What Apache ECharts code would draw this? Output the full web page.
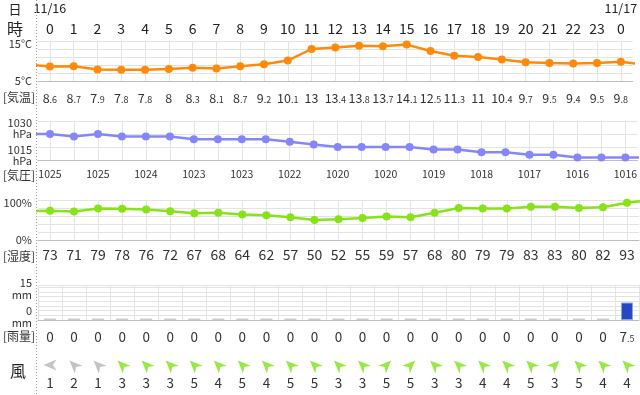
<!DOCTYPE html>
<html><head><meta charset="utf-8">
<script src="https://cdn.jsdelivr.net/npm/echarts@6/dist/echarts.min.js"></script>
<style>html,body{margin:0;padding:0;background:#fff}#c{width:640px;height:395px}</style>
</head><body><div id="c"></div>
<script>
// ---- data ----
const hourLabels = ['0','1','2','3','4','5','6','7','8','9','10','11','12','13','14','15','16','17','18','19','20','21','22','23','0'];
const dateLabels = ['11/16','','','','','','','','','','','','','','','','','','','','','','','','11/17'];
const temperature = [8.6,8.7,7.9,7.8,7.8,8,8.3,8.1,8.7,9.2,10.1,13,13.4,13.8,13.7,14.1,12.5,11.3,11,10.4,9.7,9.5,9.4,9.5,9.8];
const temperatureBefore = 9.2;
const temperatureAfter = 9.1;
const pressure = [1025,1024,1025,1024,1024,1024,1023,1023,1023,1023,1022,1021,1020,1020,1020,1020,1019,1019,1018,1018,1017,1017,1016,1016,1016];
const pressureBefore = 1025;
const pressureAfter = 1016;
const humidity = [73,71,79,78,76,72,67,68,64,62,57,50,52,55,59,57,68,80,79,79,83,83,80,82,93];
const humidityBefore = 72;
const humidityAfter = 100;
const rain = [0,0,0,0,0,0,0,0,0,0,0,0,0,0,0,0,0,0,0,0,0,0,0,0,7.5];
const windSpeed = [1,2,1,3,3,3,5,4,5,4,5,5,3,3,5,5,3,3,4,4,5,3,5,4,4];
const windDir = ['東','南東','南東','南東','南東','南東','南東','南東','南東','南東','南東','南東','南東','南東','南西','南西','南東','南東','南東','南東','南東','南西','南東','南東','南東'];
const tempTicks = {max:'15°C', min:'5°C'};
const pressureTicks = {max:'1030', min:'1015', unit:'hPa'};
const humidityTicks = {max:'100%', min:'0%'};
const rainTicks = {max:'15', min:'0', unit:'mm'};

// ---- helpers ----
const FONT = '"Noto Sans CJK JP","Noto Sans",sans-serif';
const TXT = '#333';
const dirDeg = {'北':0,'北東':45,'東':90,'南東':135,'南':180,'南西':225,'西':270,'北西':315};
function withEdges(arr, before, after){
  const d = [[-0.5, before]];
  arr.forEach((v,i)=>d.push([i+0.5, v]));
  d.push([arr.length+0.5, after]);
  return d;
}
function decRich(v){
  const s = String(v); const k = s.indexOf('.');
  if (k < 0) return '{b|'+s+'}';
  return '{b|'+s.slice(0,k)+'}{s|'+s.slice(k)+'}';
}
function xVal(gi, minor, major, line){
  return {type:'value', gridIndex:gi, min:0, max:25, interval:1, position:'bottom',
    axisLine:{show:line, onZero:false, lineStyle:{color:'#bdbdbd', width:1}},
    axisTick:{show:false}, axisLabel:{show:false},
    splitLine:{show:major, lineStyle:{color:'#e3e3e3'}},
    minorTick:{show:false, splitNumber:2},
    minorSplitLine:{show:minor, lineStyle:{color:'#e3e3e3'}}};
}
function xCat(gi, data, pos, margin, label){
  return Object.assign({type:'category', gridIndex:gi, data:data, position:pos, boundaryGap:true,
    axisLine:{show:false}, axisTick:{show:false}, splitLine:{show:false}},
    {axisLabel:Object.assign({interval:0, margin:margin, verticalAlign:'middle', color:TXT, fontFamily:FONT}, label)});
}
function yVal(gi, min, max, interval, fmt, rich){
  return {type:'value', gridIndex:gi, min:min, max:max, interval:interval,
    axisLine:{show:false}, axisTick:{show:false},
    splitLine:{show:true, lineStyle:{color:'#e3e3e3'}},
    axisLabel:{margin:6, color:TXT, fontFamily:FONT, fontSize:11, formatter:fmt, rich:rich||{}}};
}
const twoLineRich = (L, hTop, hBot) => ({
  n:{fontSize:11, lineHeight:L, fontFamily:FONT, color:TXT, align:'right'},
  et:{fontSize:1, lineHeight:hTop, height:hTop},
  eb:{fontSize:1, lineHeight:hBot, height:hBot}
});
const oneLineRich = (L, hTop) => ({
  n:{fontSize:11, lineHeight:L, fontFamily:FONT, color:TXT, align:'right'},
  et:{fontSize:1, lineHeight:hTop, height:hTop}
});
const decLabelRich = (big, small) => ({
  b:{fontSize:big, fontFamily:FONT, color:TXT, lineHeight:16, verticalAlign:'bottom'},
  s:{fontSize:small, fontFamily:FONT, color:TXT, lineHeight:16, verticalAlign:'bottom', padding:[0,0,1,0]}
});
const ARROW = 'path://M6,0 L12,14 L6,10 L0,14 Z';

const windData = windSpeed.map((s,i)=>({
  value:[i+0.5, 0.5],
  symbolRotate: -((dirDeg[windDir[i]] + 180) % 360),
  itemStyle:{color: s <= 2 ? '#b5b5b5' : '#80e21c'}
}));
const rainData = rain.map((v,i)=>({
  value:[i+0.5, v],
  itemStyle: v > 0 ? {color:'#2448c2', borderColor:'#8aa4ea', borderWidth:1} : {color:'#cccccc'}
}));
const pressureLabels = pressure.map((v,i)=> i % 2 === 0 ? String(v) : '');

const chart = echarts.init(document.getElementById('c'));
chart.setOption({
  animation:false,
  backgroundColor:'#fff',
  grid:[
    {left:38, right:1, top:41, height:40},
    {left:38, right:1, top:121, height:39},
    {left:38, right:1, top:200, height:40},
    {left:38, right:1, top:285, height:35},
    {left:38, right:1, top:355, height:20}
  ],
  xAxis:[
    xVal(0, true, false, true),
    xVal(1, true, false, true),
    xVal(2, true, false, true),
    xVal(3, false, true, true),
    xVal(4, false, false, false),
    xCat(0, temperature.map(decRich), 'bottom', 16, {rich:decLabelRich(12.5, 9)}),
    xCat(0, hourLabels, 'top', 12, {fontSize:14, color:'#222'}),
    xCat(0, dateLabels, 'top', 33, {fontSize:12.5, color:'#222'}),
    xCat(1, pressureLabels, 'bottom', 14, {fontSize:10.5}),
    xCat(2, humidity.map(String), 'bottom', 15, {fontSize:14}),
    xCat(3, rain.map(decRich), 'bottom', 16, {rich:decLabelRich(13.5, 9)}),
    xCat(4, windSpeed.map(String), 'bottom', 8, {fontSize:13.5})
  ],
  yAxis:[
    yVal(0, 5, 15, 2, v => v===15 ? '{et| }\n{n|'+tempTicks.max+'}' : (v===5 ? '{n|'+tempTicks.min+'}' : ''), oneLineRich(13, 5)),
    yVal(1, 1015, 1030, 5, v => v===1030 ? '{et| }\n{n|'+pressureTicks.max+'}\n{n|'+pressureTicks.unit+'}' : (v===1015 ? '{n|'+pressureTicks.min+'}\n{n|'+pressureTicks.unit+'}\n{eb| }' : ''), twoLineRich(11, 14, 9)),
    yVal(2, 0, 100, 20, v => v===100 ? '{et| }\n{n|'+humidityTicks.max+'}' : (v===0 ? '{n|'+humidityTicks.min+'}' : ''), oneLineRich(13, 6)),
    yVal(3, 0, 15, 2, v => v===15 ? '{et| }\n{n|'+rainTicks.max+'}\n{n|'+rainTicks.unit+'}' : (v===0 ? '{n|'+rainTicks.min+'}\n{n|'+rainTicks.unit+'}\n{eb| }' : ''), twoLineRich(12, 8, 6)),
    {type:'value', gridIndex:4, min:0, max:1, show:false}
  ],
  series:[
    {type:'line', xAxisIndex:0, yAxisIndex:0, data:withEdges(temperature, temperatureBefore, temperatureAfter),
     color:'#ff8a0a', symbol:'circle', symbolSize:8, lineStyle:{width:2.5}, clip:true},
    {type:'line', xAxisIndex:1, yAxisIndex:1, data:withEdges(pressure, pressureBefore, pressureAfter),
     color:'#8686fb', symbol:'circle', symbolSize:8, lineStyle:{width:2.5}, clip:true},
    {type:'line', xAxisIndex:2, yAxisIndex:2, data:withEdges(humidity, humidityBefore, humidityAfter),
     color:'#88e21a', symbol:'circle', symbolSize:8, lineStyle:{width:2.5}, clip:true},
    {type:'bar', xAxisIndex:3, yAxisIndex:3, data:rainData, barWidth:12, barMinHeight:1.5},
    {type:'scatter', xAxisIndex:4, yAxisIndex:4, data:windData, symbol:ARROW, symbolSize:[11,13]}
  ],
  graphic:[
    {type:'line', shape:{x1:36.5, y1:0, x2:36.5, y2:395}, style:{stroke:'#9a9a9a', lineWidth:1, lineDash:[1,2]}, z:100},
    {type:'text', x:15, y:9, style:{text:'日', font:'13px '+FONT, fill:'#222', align:'center', verticalAlign:'middle'}},
    {type:'text', x:15, y:29, style:{text:'時', font:'16px '+FONT, fill:'#222', align:'center', verticalAlign:'middle'}},
    {type:'text', x:19, y:97, style:{text:'[気温]', font:'12px '+FONT, fill:TXT, align:'center', verticalAlign:'middle'}},
    {type:'text', x:19, y:175, style:{text:'[気圧]', font:'12px '+FONT, fill:TXT, align:'center', verticalAlign:'middle'}},
    {type:'text', x:19, y:256, style:{text:'[湿度]', font:'12px '+FONT, fill:TXT, align:'center', verticalAlign:'middle'}},
    {type:'text', x:19, y:336, style:{text:'[雨量]', font:'12px '+FONT, fill:TXT, align:'center', verticalAlign:'middle'}},
    {type:'text', x:18, y:371, style:{text:'風', font:'16px '+FONT, fill:'#222', align:'center', verticalAlign:'middle'}}
  ]
});
</script></body></html>
